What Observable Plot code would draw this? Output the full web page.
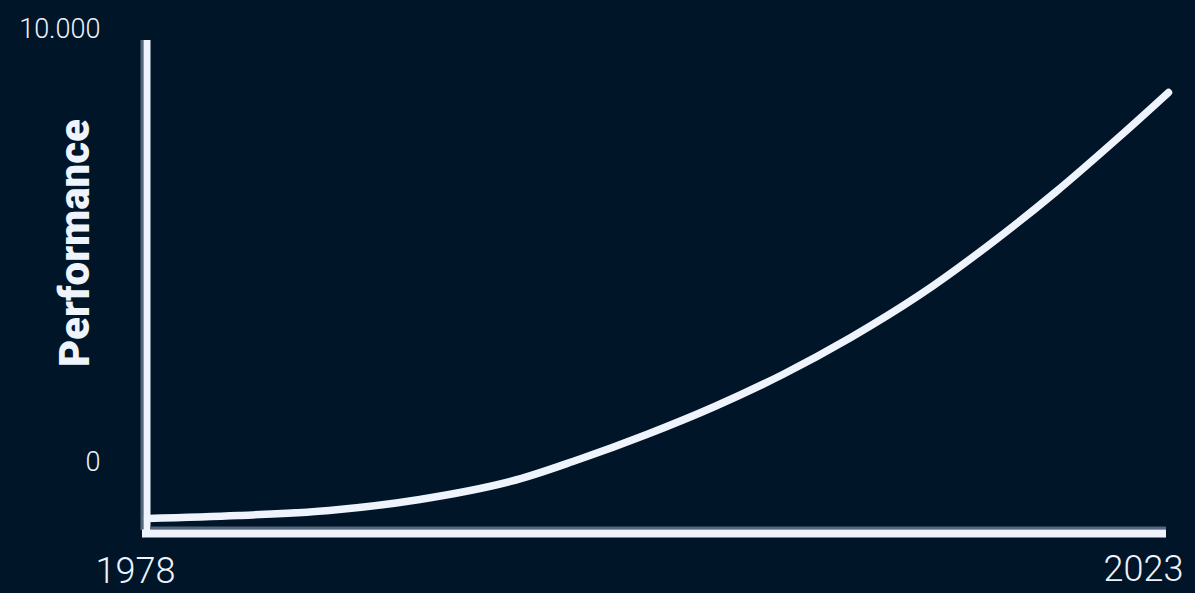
<!DOCTYPE html>
<html>
<head>
<meta charset="utf-8">
<script src="https://cdn.jsdelivr.net/npm/d3@7"></script>
<script src="https://cdn.jsdelivr.net/npm/@observablehq/plot@0.6"></script>
<style>
  html, body { margin: 0; padding: 0; background: #011529; overflow: hidden; }
  #chart svg { display: block; }
</style>
</head>
<body>
<div id="chart"></div>
<script>
// Data
const years = [1978, 1982, 1986, 1990, 1994, 1997, 2000, 2003, 2006, 2009, 2012, 2015, 2018, 2021, 2023];
const performance = [185, 246, 349, 575, 945, 1396, 1910, 2485, 3142, 3901, 4764, 5770, 6879, 8090, 8932];
const xTicksLeft = [1978];
const xTicksRight = [2023];
const yTickTop = [10000];
const yTickBottom = [0];
const yLabel = "Performance";

const data = years.map((year, i) => ({year, value: performance[i]}));

const fg = "#eef3fc";
const shadow = "#56667c";
const fmt = d => d3.format(",")(d).replace(/,/g, ".");

const chart = Plot.plot({
  width: 1195,
  height: 593,
  marginLeft: 147,
  marginRight: 27,
  marginTop: 40,
  marginBottom: 66,
  style: {background: "#011529", color: fg, fontFamily: "Roboto, sans-serif"},
  x: {domain: [1978, 2023], axis: null},
  y: {domain: [0, 10000], axis: null},
  marks: [
    Plot.line(data, {x: "year", y: "value", stroke: fg, strokeWidth: 7.5, curve: "catmull-rom"}),
    // vertical axis line with shadow
    Plot.ruleX(xTicksLeft, {stroke: shadow, strokeWidth: 3, dx: -5.5, insetBottom: -3}),
    Plot.ruleX(xTicksLeft, {stroke: fg, strokeWidth: 7, dx: -0.5, insetBottom: -3}),
    // horizontal axis line with shadow
    Plot.ruleY(yTickBottom, {x1: 1978, x2: 2023, stroke: shadow, strokeWidth: 3, dy: 0.5, insetLeft: 3, insetRight: 2}),
    Plot.ruleY(yTickBottom, {x1: 1978, x2: 2023, stroke: fg, strokeWidth: 8, dy: 6, insetLeft: -5, insetRight: 2}),
    // tick labels
    Plot.axisY({ticks: yTickTop, tickFormat: fmt, tickSize: 0, tickPadding: 47, dy: -11, fontSize: 27, fontWeight: 300, label: null, fill: fg}),
    Plot.axisY({ticks: yTickBottom, tickFormat: fmt, tickSize: 0, tickPadding: 47, dy: -65, fontSize: 27, fontWeight: 300, label: null, fill: fg}),
    Plot.axisX({ticks: xTicksLeft, tickFormat: d => String(d), tickSize: 0, tickPadding: 30, dx: -12, fontSize: 36, fontWeight: 300, label: null, fill: fg}),
    Plot.axisX({ticks: xTicksRight, tickFormat: d => String(d), tickSize: 0, tickPadding: 28, dx: -25, fontSize: 36, fontWeight: 300, label: null, fill: fg}),
    // y label
    Plot.text([yLabel], {frameAnchor: "left", textAnchor: "middle", lineAnchor: "middle", text: d => d, rotate: -90, dx: -72, dy: -41, fontSize: 42, fontWeight: 900, fill: fg})
  ]
});
document.getElementById("chart").appendChild(chart);
</script>
</body>
</html>
